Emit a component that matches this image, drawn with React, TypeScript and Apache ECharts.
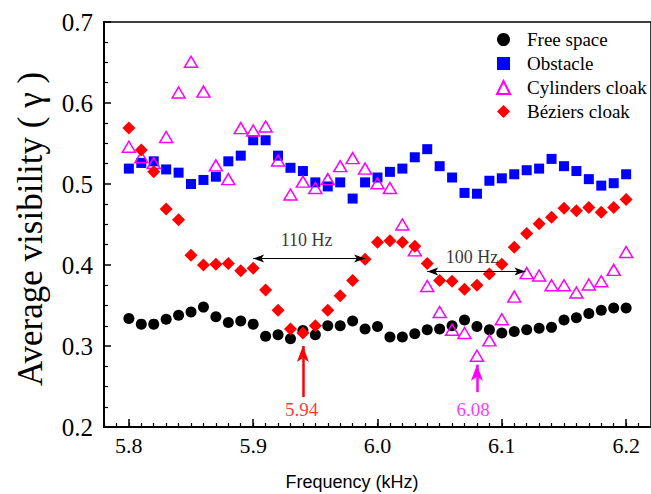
import React, { useEffect, useRef } from "react";
import * as echarts from "echarts";

const frequencies = [
  5.8, 5.81, 5.82, 5.83, 5.84, 5.85, 5.86, 5.87, 5.88, 5.89, 5.9,
  5.91, 5.92, 5.93, 5.94, 5.95, 5.96, 5.97, 5.98, 5.99, 6.0,
  6.01, 6.02, 6.03, 6.04, 6.05, 6.06, 6.07, 6.08, 6.09, 6.1,
  6.11, 6.12, 6.13, 6.14, 6.15, 6.16, 6.17, 6.18, 6.19, 6.2,
];

const freeSpace = [
  0.334, 0.327, 0.327, 0.333, 0.338, 0.342, 0.348, 0.336, 0.329, 0.331, 0.327,
  0.312, 0.314, 0.309, 0.319, 0.314, 0.325, 0.325, 0.331, 0.321, 0.324,
  0.311, 0.311, 0.315, 0.32, 0.321, 0.325, 0.332, 0.324, 0.32, 0.316,
  0.318, 0.32, 0.322, 0.323, 0.332, 0.335, 0.34, 0.344, 0.347, 0.347,
];

const obstacle = [
  0.519, 0.526, 0.528, 0.518, 0.514, 0.5, 0.505, 0.509, 0.528, 0.535, 0.554,
  0.554, 0.535, 0.52, 0.516, 0.502, 0.497, 0.502, 0.482, 0.502, 0.508,
  0.515, 0.519, 0.533, 0.543, 0.522, 0.508, 0.489, 0.488, 0.504, 0.507,
  0.512, 0.517, 0.519, 0.531, 0.522, 0.516, 0.506, 0.498, 0.501, 0.512,
];

const cylindersCloak = [
  0.546, 0.533, 0.526, 0.558, 0.613, 0.651, 0.614, 0.523, 0.506, 0.569, 0.566,
  0.571, 0.529, 0.487, 0.503, 0.495, 0.506, 0.522, 0.532, 0.519, 0.501,
  0.495, 0.45, 0.418, 0.374, 0.342, 0.32, 0.316, 0.288, 0.307, 0.333,
  0.361, 0.39, 0.387, 0.375, 0.375, 0.366, 0.376, 0.38, 0.394, 0.416,
];

const beziersCloak = [
  0.569, 0.542, 0.515, 0.469, 0.456, 0.412, 0.4, 0.401, 0.402, 0.393, 0.396,
  0.369, 0.344, 0.321, 0.316, 0.325, 0.344, 0.362, 0.381, 0.407, 0.428,
  0.43, 0.428, 0.423, 0.402, 0.381, 0.38, 0.37, 0.375, 0.389, 0.401,
  0.422, 0.439, 0.451, 0.459, 0.47, 0.467, 0.471, 0.465, 0.471, 0.481,
];

const seriesNames = ["Free space", "Obstacle", "Cylinders cloak", "Béziers cloak"];
const xTickLabels = [5.8, 5.9, 6.0, 6.1, 6.2];
const yTickLabels = [0.2, 0.3, 0.4, 0.5, 0.6, 0.7];

const SERIF = "Liberation Serif";
const SANS = "Liberation Sans";

const pair = (ys: number[]) => frequencies.map((f, i) => [f, ys[i]]);

export default function App() {
  const ref = useRef<HTMLDivElement>(null);
  useEffect(() => {
    if (!ref.current) return;
    const chart = echarts.init(ref.current, null, { renderer: "svg" });
    const minorTicks: number[] = [];
    for (let k = 578; k <= 622; k++) minorTicks.push(k / 100);

    const option: any = {
      animation: false,
      backgroundColor: "#fff",
      textStyle: { fontFamily: SERIF },
      grid: {
        left: 104,
        right: -4,
        top: 22,
        bottom: 67,
        show: true,
        borderColor: "#000",
        borderWidth: 1.5,
        containLabel: false,
      },
      legend: {
        data: seriesNames,
        orient: "vertical",
        left: 491,
        top: 25,
        itemWidth: 13,
        itemHeight: 13,
        itemGap: 5,
        textStyle: {
          fontSize: 19,
          fontFamily: SERIF,
          color: "#000",
          fontWeight: "normal",
          padding: [0, 0, 0, 12],
        },
      },
      xAxis: [
        {
          type: "value",
          min: 5.78,
          max: 6.22,
          axisLine: { show: true, lineStyle: { color: "#000", width: 2 } },
          axisTick: {
            show: true,
            inside: true,
            length: 8,
            customValues: xTickLabels,
            lineStyle: { color: "#000", width: 1.5 },
          },
          axisLabel: {
            show: true,
            customValues: xTickLabels,
            formatter: (v: number) => v.toFixed(1),
            fontSize: 22,
            fontFamily: SERIF,
            color: "#000",
            margin: 7,
          },
          splitLine: { show: false },
        },
        {
          type: "value",
          position: "bottom",
          min: 5.78,
          max: 6.22,
          axisLine: { show: false },
          axisTick: {
            show: true,
            inside: true,
            length: 4,
            customValues: minorTicks,
            lineStyle: { color: "#000", width: 1.2 },
          },
          axisLabel: { show: false },
          splitLine: { show: false },
        },
      ],
      yAxis: {
        type: "value",
        min: 0.2,
        max: 0.7,
        interval: 0.1,
        axisLine: { show: true, lineStyle: { color: "#000", width: 2 } },
        axisTick: { show: true, inside: true, length: 7, lineStyle: { color: "#000", width: 1.5 } },
        minorTick: { show: true, splitNumber: 4, length: 4, lineStyle: { color: "#000", width: 1.2 } },
        axisLabel: {
          formatter: (v: number) => (yTickLabels.some((t) => Math.abs(t - v) < 1e-6) ? v.toFixed(1) : ""),
          fontSize: 25,
          fontFamily: SERIF,
          color: "#000",
          margin: 11,
        },
        splitLine: { show: false },
      },
      graphic: [
        {
          type: "text",
          x: 30,
          y: 229,
          rotation: Math.PI / 2,
          style: {
            text: "Average visibility ( γ )",
            fontSize: 35,
            fontFamily: SERIF,
            fill: "#000",
            align: "center",
            verticalAlign: "middle",
          },
        },
        {
          type: "text",
          x: 352,
          y: 482,
          style: {
            text: "Frequency (kHz)",
            fontSize: 18,
            fontFamily: SANS,
            fill: "#000",
            align: "center",
            verticalAlign: "middle",
          },
        },
      ],
      series: [
        {
          name: seriesNames[0],
          type: "scatter",
          symbol: "circle",
          symbolSize: 11,
          itemStyle: { color: "#000", opacity: 1 },
          data: pair(freeSpace),
        },
        {
          name: seriesNames[1],
          type: "scatter",
          symbol: "rect",
          symbolSize: 10,
          itemStyle: { color: "#0000ff", opacity: 1 },
          data: pair(obstacle),
        },
        {
          name: seriesNames[2],
          type: "scatter",
          symbol: "triangle",
          symbolSize: [13, 11],
          itemStyle: { color: "rgba(255,255,255,0)", borderColor: "#ff00ff", borderWidth: 1.5, opacity: 1 },
          data: pair(cylindersCloak),
        },
        {
          name: seriesNames[3],
          type: "scatter",
          symbol: "diamond",
          symbolSize: 13,
          itemStyle: { color: "#ff0000", opacity: 1 },
          data: pair(beziersCloak),
        },
        {
          name: "annotations",
          type: "scatter",
          symbolSize: 0,
          silent: true,
          label: {
            show: true,
            position: "inside",
            formatter: (p: any) => p.name,
            fontFamily: SERIF,
          },
          data: [
            { name: "110 Hz", value: [5.943, 0.431], label: { fontSize: 18, color: "#000" } },
            { name: "100 Hz", value: [6.076, 0.41], label: { fontSize: 18, color: "#000" } },
            { name: "5.94", value: [5.939, 0.222], label: { fontSize: 19, color: "#ff0000" } },
            { name: "6.08", value: [6.077, 0.221], label: { fontSize: 19, color: "#ff00ff" } },
          ],
          markLine: {
            silent: true,
            animation: false,
            label: { show: false },
            emphasis: { disabled: true },
            data: [
              [
                { coord: [5.9, 0.408], symbol: "arrow", symbolSize: [6, 11], lineStyle: { color: "#000", width: 1.2, type: "solid" } },
                { coord: [5.99, 0.408], symbol: "arrow", symbolSize: [6, 11] },
              ],
              [
                { coord: [6.04, 0.392], symbol: "arrow", symbolSize: [6, 11], lineStyle: { color: "#000", width: 1.2, type: "solid" } },
                { coord: [6.119, 0.392], symbol: "arrow", symbolSize: [6, 11] },
              ],
              [
                { coord: [5.94, 0.237], symbol: "none", lineStyle: { color: "#ff0000", width: 2.5, type: "solid" } },
                { coord: [5.94, 0.3], symbol: "arrow", symbolSize: [9, 16] },
              ],
              [
                { coord: [6.08, 0.243], symbol: "none", lineStyle: { color: "#ff00ff", width: 2.5, type: "solid" } },
                { coord: [6.08, 0.277], symbol: "arrow", symbolSize: [9, 16] },
              ],
            ],
          },
        },
      ],
    };
    chart.setOption(option);
    return () => chart.dispose();
  }, []);

  return (
    <div
      ref={ref}
      style={{ position: "fixed", left: 0, top: 0, width: 651, height: 494, background: "#fff" }}
    />
  );
}
